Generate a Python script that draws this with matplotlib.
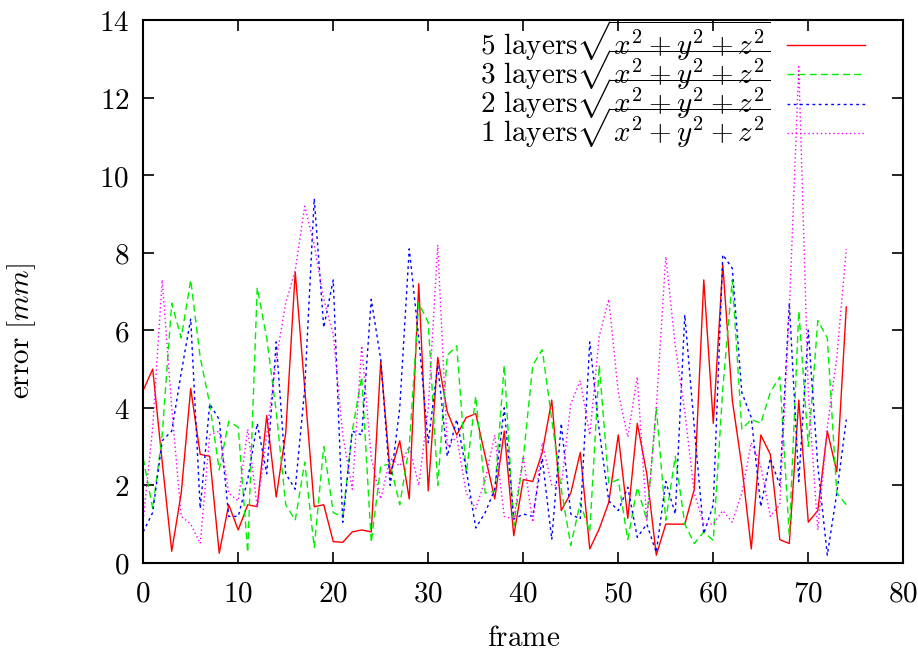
import matplotlib
matplotlib.use("Agg")
from matplotlib import pyplot as plt
from matplotlib.ticker import FuncFormatter
import numpy as np

frames = np.arange(75)

err_5 = [4.45, 5.0, 2.6, 0.3, 1.8, 4.5, 2.8, 2.75, 0.25, 1.5,
         0.85, 1.5, 1.45, 3.8, 1.7, 3.35, 7.5, 4.5, 1.45, 1.5,
         0.55, 0.53, 0.8, 0.85, 0.8, 5.2, 2.3, 3.15, 1.65, 7.2,
         1.86, 5.3, 3.9, 3.3, 3.75, 3.85, 2.75, 1.65, 3.4, 0.7,
         2.15, 2.1, 2.85, 4.2, 1.35, 1.8, 2.85, 0.36, 0.88, 1.56,
         3.3, 1.15, 3.6, 2.3, 0.2, 1.0, 1.0, 1.0, 1.9, 7.3,
         3.6, 7.7, 4.2, 2.5, 0.36, 3.3, 2.8, 0.6, 0.5, 4.2,
         1.05, 1.35, 3.4, 2.35, 6.6]

err_3 = [2.7, 1.4, 3.3, 6.7, 5.8, 7.3, 5.3, 4.1, 2.4, 3.65,
         3.5, 0.27, 7.1, 5.8, 3.9, 1.5, 1.1, 2.6, 0.4, 3.0,
         1.3, 1.18, 3.4, 4.8, 0.53, 2.5, 2.55, 1.5, 3.0, 6.7,
         6.2, 2.0, 5.35, 5.6, 2.3, 4.3, 1.8, 1.85, 5.1, 0.95,
         2.7, 5.1, 5.5, 3.7, 1.9, 0.45, 1.55, 0.8, 5.1, 2.05,
         2.15, 0.6, 1.95, 1.1, 4.0, 1.1, 2.75, 1.0, 0.5, 0.8,
         0.58, 4.5, 7.3, 3.45, 3.7, 3.6, 4.4, 4.8, 0.7, 6.5,
         3.0, 6.25, 5.8, 1.8, 1.5]

err_2 = [0.8, 1.3, 3.15, 3.4, 4.9, 6.3, 1.4, 4.1, 3.7, 1.2,
         1.2, 2.15, 3.6, 2.3, 5.7, 2.3, 1.9, 4.5, 9.4, 6.07,
         7.3, 1.05, 3.4, 3.3, 6.8, 5.25, 2.0, 4.0, 8.1, 5.8,
         3.1, 5.1, 2.75, 3.7, 2.4, 0.9, 1.3, 1.9, 4.0, 1.13,
         1.26, 1.2, 2.7, 0.6, 3.6, 1.26, 1.13, 5.7, 3.4, 1.6,
         1.35, 1.95, 0.66, 1.0, 0.27, 2.1, 1.26, 6.4, 3.5, 0.75,
         1.5, 7.95, 7.6, 4.4, 3.75, 1.45, 2.7, 2.0, 6.7, 2.1,
         6.0, 2.5, 0.2, 1.8, 3.7]

err_1 = [1.1, 3.5, 7.3, 4.0, 1.2, 1.0, 0.5, 3.3, 3.4, 1.8,
         1.6, 3.45, 1.43, 3.3, 5.25, 6.7, 7.55, 9.2, 8.2, 6.8,
         5.9, 3.3, 1.9, 5.6, 2.7, 1.65, 2.7, 2.5, 3.0, 2.0,
         4.0, 8.2, 3.0, 3.25, 1.8, 1.4, 2.15, 3.3, 1.2, 1.13,
         2.75, 1.05, 3.1, 2.0, 2.0, 4.1, 4.7, 3.3, 5.85, 6.8,
         4.4, 3.25, 4.8, 1.1, 4.0, 7.9, 5.6, 3.9, 1.8, 1.0,
         1.0, 1.35, 1.05, 1.8, 3.1, 2.5, 1.2, 1.5, 6.5, 12.8,
         4.4, 0.85, 3.5, 5.3, 8.1]

xticks = [0, 10, 20, 30, 40, 50, 60, 70, 80]
yticks = [0, 2, 4, 6, 8, 10, 12, 14]

plt.rcParams['mathtext.fontset'] = 'cm'
plt.rcParams['font.family'] = 'serif'

fig = plt.figure(figsize=(9.18, 6.5), dpi=100)
ax = fig.add_axes([0.156, 0.134, 0.828, 0.835])

sq = r"\sqrt{x^2+y^2+z^2}"
ax.plot(frames, err_5, color="#ff0000", linewidth=1.0, label=r"$\mathrm{5\ layers}" + sq + "$")
ax.plot(frames, err_3, color="#00ee00", linewidth=1.0, dashes=(5, 3), label=r"$\mathrm{3\ layers}" + sq + "$")
ax.plot(frames, err_2, color="#0000ff", linewidth=1.0, dashes=(2, 2.5), label=r"$\mathrm{2\ layers}" + sq + "$")
ax.plot(frames, err_1, color="#ff00ff", linewidth=1.0, dashes=(1, 2), label=r"$\mathrm{1\ layers}" + sq + "$")

ax.set_xlim(0, 80)
ax.set_ylim(0, 14)
ax.set_xticks(xticks)
ax.set_yticks(yticks)
fmt = FuncFormatter(lambda v, p: "$%g$" % v)
ax.xaxis.set_major_formatter(fmt)
ax.yaxis.set_major_formatter(fmt)
ax.tick_params(direction="in", length=8, width=1.2, top=True, right=True, labelsize=21)
ax.tick_params(axis="x", pad=12)
ax.tick_params(axis="y", pad=10)
for s in ax.spines.values():
    s.set_linewidth(1.5)

ax.set_xlabel(r"$\mathrm{frame}$", fontsize=21)
ax.set_ylabel(r"$\mathrm{error}\ [mm]$", fontsize=21)
ax.xaxis.set_label_coords(0.5, -0.112)
ax.yaxis.set_label_coords(-0.138, 0.427)

# gnuplot-style key: text first, sample line on the right, rows packed tight
ax.legend(loc="upper right", bbox_to_anchor=(0.95, 1.003), frameon=False, markerfirst=False,
          fontsize=21, handlelength=2.67, handletextpad=0.58, labelspacing=-0.55,
          borderaxespad=0.0, borderpad=0.0)

fig.savefig("out.png", dpi=100)
